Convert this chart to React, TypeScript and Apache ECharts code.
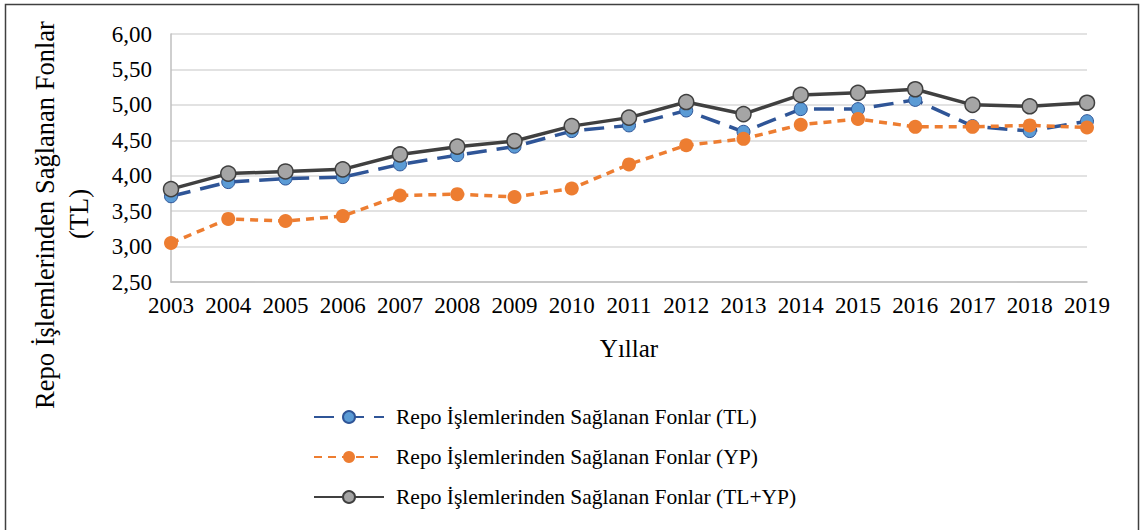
import React, { useEffect, useRef } from "react";
import * as echarts from "echarts";

const years = ["2003","2004","2005","2006","2007","2008","2009","2010","2011","2012","2013","2014","2015","2016","2017","2018","2019"];
const tlValues = [3.71,3.91,3.96,3.98,4.16,4.29,4.41,4.63,4.71,4.92,4.62,4.94,4.94,5.07,4.70,4.63,4.77];
const ypValues = [3.05,3.39,3.36,3.43,3.72,3.74,3.70,3.82,4.16,4.43,4.52,4.72,4.80,4.69,4.69,4.71,4.68];
const totalValues = [3.81,4.03,4.06,4.09,4.30,4.41,4.49,4.70,4.82,5.04,4.87,5.14,5.17,5.22,5.00,4.98,5.03];
const seriesNames = [
  "Repo İşlemlerinden Sağlanan Fonlar (TL)",
  "Repo İşlemlerinden Sağlanan Fonlar (YP)",
  "Repo İşlemlerinden Sağlanan Fonlar (TL+YP)",
];
const yTitleLines = ["Repo İşlemlerinden Sağlanan Fonlar", "(TL)"];
const xTitle = "Yıllar";

const FONT = "'Liberation Serif', 'Times New Roman', serif";

export default function App() {
  const ref = useRef<HTMLDivElement>(null);
  useEffect(() => {
    document.body.style.margin = "0";
    if (!ref.current) return;
    const chart = echarts.init(ref.current, null, { renderer: "svg" });
    chart.setOption({
      animation: false,
      backgroundColor: "#ffffff",
      textStyle: { fontFamily: FONT },
      grid: { left: 171, right: 53, top: 34, bottom: 248, containLabel: false },
      xAxis: {
        type: "category",
        data: years,
        boundaryGap: false,
        axisLine: { show: true, lineStyle: { color: "#BFBFBF", width: 1.5 } },
        axisTick: { show: false },
        axisLabel: { color: "#000", fontSize: 23, fontFamily: FONT, margin: 12, interval: 0 },
        splitLine: { show: false },
      },
      yAxis: {
        type: "value",
        min: 2.5,
        max: 6,
        interval: 0.5,
        axisLine: { show: true, lineStyle: { color: "#BFBFBF", width: 1.5 } },
        axisTick: { show: false },
        axisLabel: {
          color: "#000",
          fontSize: 23,
          fontFamily: FONT,
          margin: 19,
          formatter: (v: number) => v.toFixed(2).replace(".", ","),
        },
        splitLine: { show: true, lineStyle: { color: "#D9D9D9", width: 1.5 } },
      },
      legend: {
        orient: "vertical",
        left: 313,
        top: 406,
        padding: 0,
        itemWidth: 70,
        itemHeight: 15,
        itemGap: 18,
        textStyle: { color: "#000", fontSize: 21.5, fontFamily: FONT, padding: [0, 0, 0, 7] },
        data: seriesNames,
      },
      graphic: [
        {
          type: "rect",
          shape: { x: 5.5, y: 4.5, width: 1133, height: 560 },
          style: { fill: "none", stroke: "#404040", lineWidth: 1.5 },
          silent: true,
        },
        {
          type: "text",
          x: 45,
          y: 215,
          rotation: Math.PI / 2,
          style: { text: yTitleLines[0], font: `26.5px ${FONT}`, fill: "#000", textAlign: "center", textVerticalAlign: "middle" },
        },
        {
          type: "text",
          x: 79,
          y: 214,
          rotation: Math.PI / 2,
          style: { text: yTitleLines[1], font: `26.5px ${FONT}`, fill: "#000", textAlign: "center", textVerticalAlign: "middle" },
        },
        {
          type: "text",
          x: 629,
          y: 348,
          style: { text: xTitle, font: `25px ${FONT}`, fill: "#000", textAlign: "center", textVerticalAlign: "middle" },
        },
      ],
      series: [
        {
          name: seriesNames[0],
          type: "line",
          data: tlValues,
          symbol: "circle",
          symbolSize: 13,
          lineStyle: { color: "#2F5597", width: 3.5, type: [20, 10] },
          itemStyle: { color: "#5B9BD5", borderColor: "#2F5597", borderWidth: 1 },
          z: 2,
        },
        {
          name: seriesNames[1],
          type: "line",
          data: ypValues,
          symbol: "circle",
          symbolSize: 14,
          lineStyle: { color: "#ED7D31", width: 3.5, type: [8, 6] },
          itemStyle: { color: "#ED7D31", borderColor: "#ED7D31", borderWidth: 0 },
          z: 3,
        },
        {
          name: seriesNames[2],
          type: "line",
          data: totalValues,
          symbol: "circle",
          symbolSize: 15,
          lineStyle: { color: "#404040", width: 3.5, type: "solid" },
          itemStyle: { color: "#A5A5A5", borderColor: "#404040", borderWidth: 1.5 },
          z: 4,
        },
      ],
    });
    return () => chart.dispose();
  }, []);
  return <div ref={ref} style={{ width: 1140, height: 530 }} />;
}
